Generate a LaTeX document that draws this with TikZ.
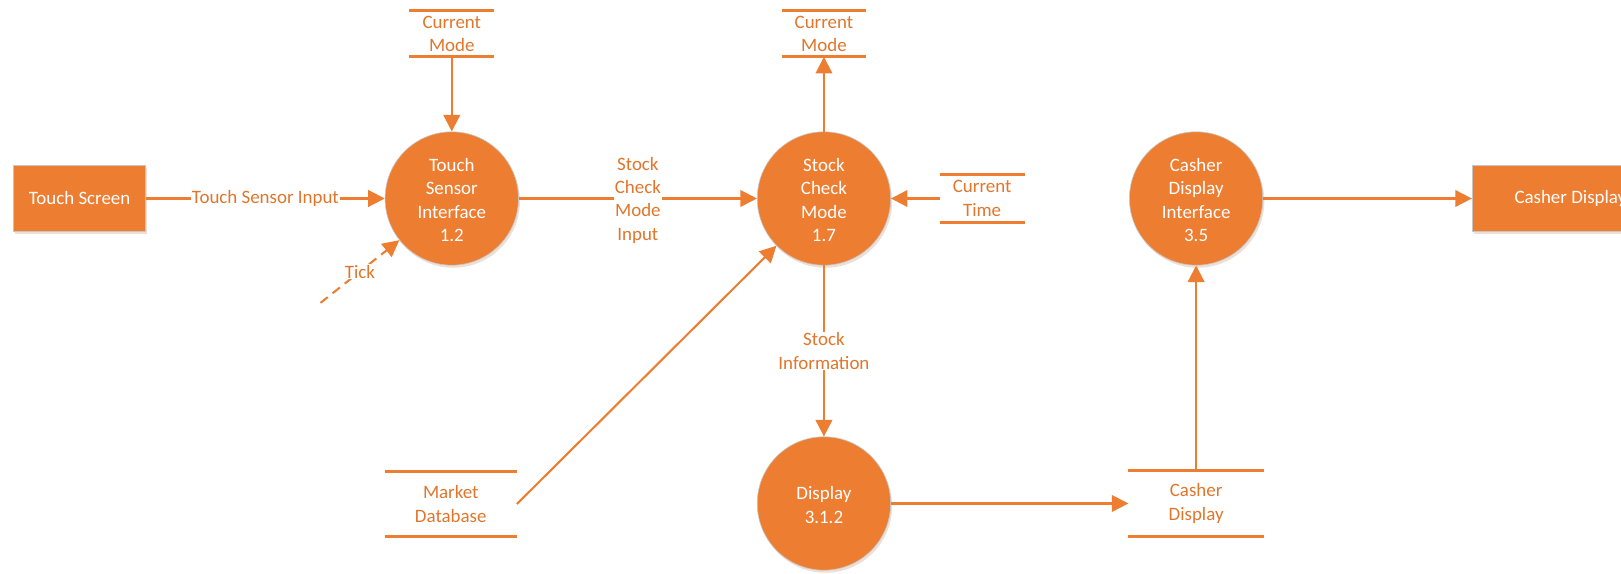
\documentclass[tikz,border=0pt]{standalone}
\usepackage{fontspec}
\setmainfont{Carlito}
\usetikzlibrary{arrows.meta,shadows}
\definecolor{acc}{HTML}{ED7D31}
\definecolor{labtxt}{HTML}{E0762C}
\begin{document}
\begin{tikzpicture}[x=1pt,y=-1pt,
  every node/.style={font=\fontsize{18.3}{22.5}\selectfont},
  proc/.style={circle, fill=acc, draw=gray!45, line width=0.6pt, minimum size=129pt, inner sep=0pt, align=center, text=white,
    drop shadow={shadow xshift=1.5pt, shadow yshift=-2.5pt, opacity=0.25, fill=acc!50!gray}},
  ext/.style={rectangle, fill=acc, draw=gray!45, line width=0.6pt, minimum height=64pt, inner sep=0pt, text=white,
    drop shadow={shadow xshift=1.5pt, shadow yshift=-2.5pt, opacity=0.25, fill=acc!50!gray}},
  store/.style={rectangle, inner sep=0pt, outer sep=0pt, align=center, text=labtxt},
  storeline/.style={draw=acc, line width=2.7pt},
  flow/.style={draw=acc, line width=2pt, -{Triangle[length=16pt,width=16pt]}},
  flowlab/.style={fill=white, text=labtxt, inner sep=1pt, align=center},
]
\clip (0,0) rectangle (1568,555);

% external entities
\node[ext, minimum width=128pt] (ts) at (77,192) {Touch Screen};
\node[ext, minimum width=190pt] (cdr) at (1519,192) {Casher Display};

% processes
\node[proc] (c12) at (437,192) {\strut Touch\\Sensor\\Interface\\1.2};
\node[proc] (c17) at (797,192) {\strut Stock\\Check\\Mode\\1.7};
\node[proc] (c35) at (1157,192) {\strut Casher\\Display\\Interface\\3.5};
\node[proc] (d312) at (797,487) {\strut Display\\3.1.2};

% data stores
\node[store, minimum width=82pt, minimum height=45pt] (cm1) at (437,32.5) {Current\\Mode};
\node[store, minimum width=82pt, minimum height=45pt] (cm2) at (797,32.5) {Current\\Mode};
\node[store, minimum width=82pt, minimum height=46pt] (ct) at (950,192) {Current\\Time};
\node[store, minimum width=128pt, minimum height=63pt] (mdb) at (436,487.5) {Market\\Database};
\node[store, minimum width=131pt, minimum height=64pt] (csd) at (1157,487) {Casher\\Display};
\foreach \s in {cm1,cm2,ct,mdb,csd}
  \draw[storeline] (\s.north west) -- (\s.north east) (\s.south west) -- (\s.south east);

\coordinate (tk) at (310,293);

% flows
\draw[flow] (ts) -- node[flowlab, pos=0.5] {Touch Sensor Input} (c12);
\draw[flow] (cm1) -- (c12);
\draw[flow, dash pattern=on 9pt off 6pt] (tk) -- node[flowlab, pos=0.5] {Tick} (c12);
\draw[flow] (c12) -- node[flowlab, pos=0.5] {\strut Stock\\Check\\Mode\\Input} (c17);
\draw[flow] (c17) -- (cm2);
\draw[flow] (ct) -- (c17);
\draw[flow] (mdb.east) -- (c17);
\draw[flow] (c17) -- node[flowlab, pos=0.5] {Stock\\Information} (d312);
\draw[flow] (d312) -- (csd);
\draw[flow] (csd) -- (c35);
\draw[flow] (c35) -- (cdr);
\end{tikzpicture}
\end{document}
